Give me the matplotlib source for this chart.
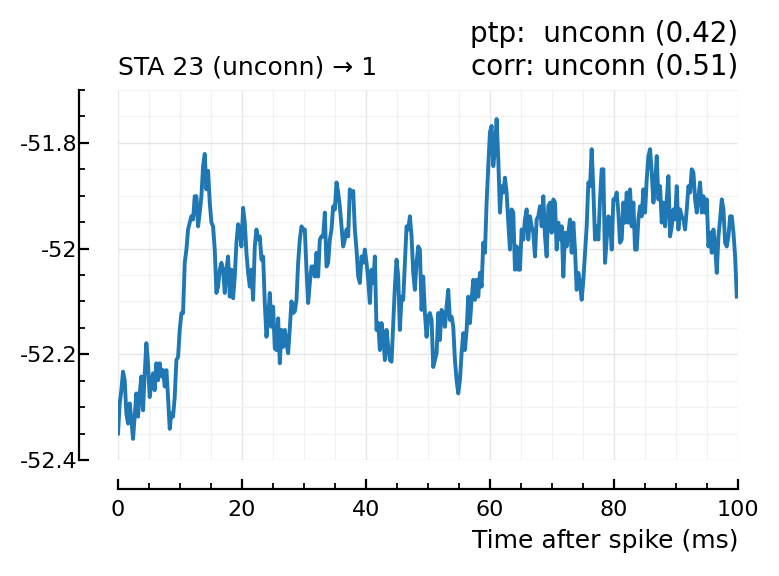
import numpy as np
import matplotlib
matplotlib.use("Agg")
import matplotlib.pyplot as plt
from matplotlib.ticker import MultipleLocator, FuncFormatter

plt.rcParams['font.family'] = ['DejaVu Sans']
plt.rcParams['axes.unicode_minus'] = False

# Membrane potential (mV), sampled evenly from 0 to ~99.8 ms
v_seg1 = [-52.350, -52.293, -52.268, -52.233, -52.249, -52.312, -52.331, -52.293, -52.325, -52.360,
          -52.318, -52.274, -52.318, -52.274, -52.242, -52.306, -52.236, -52.179, -52.217, -52.281,
          -52.255, -52.236, -52.268, -52.217, -52.249, -52.217, -52.242, -52.230, -52.261, -52.230,
          -52.281, -52.341, -52.312, -52.318, -52.281, -52.211, -52.205, -52.154, -52.122, -52.122,
          -52.027, -52.002, -51.964, -51.951, -51.939, -51.945, -51.901, -51.901, -51.958, -51.932,
          -51.901, -51.844, -51.821, -51.888, -51.853, -51.913, -51.951, -51.958, -52.002, -52.084,
          -52.072, -52.040, -52.027, -52.040, -52.084, -52.040, -52.015, -52.091, -52.040, -52.094,
          -52.053, -51.989, -51.954, -51.964, -51.996, -51.923, -51.951, -52.008, -52.046, -52.072,
          -52.040, -52.097, -51.996, -51.964, -51.983, -51.977, -52.021, -52.015, -52.103, -52.167,
          -52.135]
v_seg2 = [-52.084, -52.148, -52.110, -52.189, -52.192, -52.132, -52.217, -52.154, -52.186, -52.154,
          -52.179, -52.198, -52.151, -52.100, -52.122, -52.119, -52.097, -52.027, -51.983, -51.958,
          -51.964, -51.964, -52.040, -52.103, -52.065, -52.034, -52.034, -52.053, -52.008, -52.053,
          -51.983, -51.977, -51.977, -51.932, -52.034, -52.027, -51.983, -51.964, -51.920, -51.926,
          -51.875, -51.894, -51.920, -51.958, -51.996, -51.983, -51.964, -51.977, -51.888, -51.901,
          -51.891, -51.964, -52.002, -52.053, -52.065, -52.015, -52.027, -52.002, -52.027, -52.059,
          -52.103, -52.040, -52.065, -52.015, -52.154, -52.141, -52.192, -52.141, -52.167, -52.211,
          -52.154, -52.186, -52.211, -52.214, -52.141, -52.072, -52.021, -52.053, -52.154, -52.091,
          -52.097, -52.027, -51.958, -51.964, -51.939, -51.977, -52.046, -52.078, -52.027, -51.996,
          -52.002, -52.116, -52.053, -52.122, -52.167, -52.129]
v_seg3 = [-52.122, -52.135, -52.224, -52.211, -52.198, -52.122, -52.173, -52.116, -52.122, -52.148,
          -52.110, -52.078, -52.135, -52.129, -52.148, -52.211, -52.249, -52.274, -52.249, -52.198,
          -52.160, -52.192, -52.154, -52.091, -52.141, -52.097, -52.059, -52.097, -52.059, -52.091,
          -52.046, -52.072, -51.989, -52.008, -51.913, -51.844, -51.780, -51.768, -51.844, -51.812,
          -51.755, -51.831, -51.932, -51.882, -51.894, -51.866, -51.894, -51.951, -52.002, -51.926,
          -51.932, -52.040, -51.996, -52.040, -52.040, -51.964, -51.983, -51.945, -51.926, -51.983,
          -51.939, -51.958, -51.970, -52.015, -51.945, -51.939, -51.920, -51.958, -51.901, -51.977,
          -52.015, -51.920, -51.913, -51.970, -51.907, -51.913, -52.002, -51.951, -51.983, -51.958,
          -52.053, -51.970, -51.996, -51.970, -51.945, -52.008, -51.951, -52.002, -52.078, -52.046]
v_seg4 = [-52.065, -52.097, -52.059, -52.008, -51.958, -51.875, -51.882, -51.812, -51.888, -51.983,
          -51.958, -51.983, -51.907, -51.850, -51.850, -52.027, -51.983, -51.939, -51.945, -52.002,
          -51.907, -51.907, -51.894, -51.932, -51.989, -51.983, -51.913, -51.951, -51.894, -51.951,
          -51.888, -51.958, -51.913, -52.002, -52.002, -51.945, -51.920, -51.939, -51.888, -51.932,
          -51.869, -51.825, -51.812, -51.856, -51.913, -51.882, -51.825, -51.907, -51.882, -51.951,
          -51.913, -51.958, -51.907, -51.863, -51.977, -51.958, -51.926, -51.945, -51.882, -51.964,
          -51.926, -51.939, -51.945, -51.964, -51.926, -51.882, -51.894, -51.850, -51.856, -51.907,
          -51.932, -51.901, -51.875, -51.932, -51.901, -51.932, -51.907, -51.996, -51.970, -52.008,
          -51.964, -51.996, -52.046, -51.977, -51.945, -51.907, -51.926, -51.989, -51.996, -51.977,
          -51.939, -51.939, -51.970, -52.015, -52.091]
voltage = np.array(v_seg1 + v_seg2 + v_seg3 + v_seg4)
time_ms = np.linspace(0, 99.8, len(voltage))

title_left = "STA 23 (unconn) \u2192 1"
title_right = "ptp:  unconn (0.42)\ncorr: unconn (0.51)"
xlabel = "Time after spike (ms)"
x_ticks = [0, 20, 40, 60, 80, 100]
y_ticks = [-52.4, -52.2, -52.0, -51.8]

fig = plt.figure(figsize=(7.79, 5.76), dpi=100)
ax = fig.add_axes([0.1515, 0.2014, 0.7959, 0.6424])

ax.plot(time_ms, voltage, color='#1f77b4', lw=2.8, solid_joinstyle='round')

ax.set_xlim(0, 100)
ax.set_ylim(-52.4, -51.7)
ax.set_xticks(x_ticks)
ax.set_yticks(y_ticks)
ax.xaxis.set_minor_locator(MultipleLocator(5))
ax.yaxis.set_minor_locator(MultipleLocator(0.05))
ax.yaxis.set_major_formatter(FuncFormatter(lambda v, p: f"{v:g}"))
ax.xaxis.set_major_formatter(FuncFormatter(lambda v, p: f"{v:g}"))

ax.grid(True, which='major', color='#e6e6e6', lw=1.0)
ax.grid(True, which='minor', color='#f2f2f2', lw=0.9)
ax.set_axisbelow(True)

for s in ['top', 'right']:
    ax.spines[s].set_visible(False)
ax.spines['left'].set_position(('outward', 28))
ax.spines['bottom'].set_position(('outward', 21))
ax.spines['left'].set_linewidth(1.6)
ax.spines['bottom'].set_linewidth(1.6)

ax.tick_params(which='major', direction='in', length=7, width=1.6, labelsize=16)
ax.tick_params(which='minor', direction='in', length=4, width=1.3)
ax.tick_params(axis='y', which='major', pad=1.5)
ax.tick_params(axis='x', which='major', pad=8)

ax.set_xlabel(xlabel, fontsize=18, loc='right')
ax.xaxis.labelpad = 6

ax.set_title(title_left, loc='left', fontsize=18, pad=11)
ax.set_title(title_right, loc='right', fontsize=20, pad=11)

fig.savefig("out.png", dpi=100)
